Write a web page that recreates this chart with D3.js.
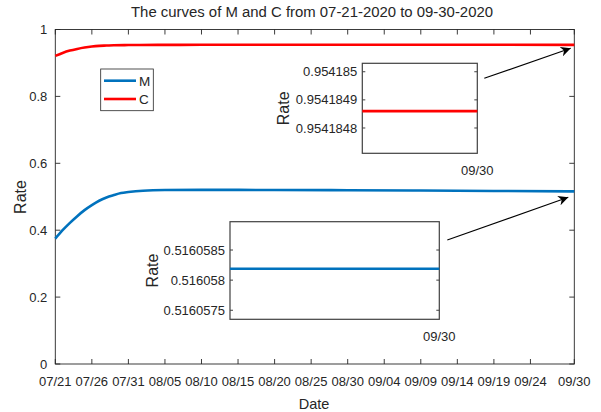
<!DOCTYPE html>
<html>
<head>
<meta charset="utf-8">
<script src="https://cdn.jsdelivr.net/npm/d3@7/dist/d3.min.js"></script>
<style>
  html, body { margin: 0; padding: 0; background: #fff; }
  svg { display: block; }
  text { font-family: "Liberation Sans", Arial, sans-serif; fill: #262626; }
</style>
</head>
<body>
<svg id="chart" width="601" height="412"></svg>
<script>
// M and C rates, 07-21-2020 to 09-30-2020
const mDates = ["2020-07-21","2020-07-22","2020-07-23","2020-07-24","2020-07-25","2020-07-26",
  "2020-07-27","2020-07-28","2020-07-29","2020-07-30","2020-07-31","2020-08-02","2020-08-05",
  "2020-08-10","2020-08-20","2020-08-30","2020-09-09","2020-09-19","2020-09-30"];
const mValues = [0.375,0.400,0.422,0.442,0.460,0.475,0.488,0.498,0.505,0.511,0.514,0.518,0.520,
  0.5205,0.5203,0.5195,0.5185,0.5172,0.51605819];

const cDates = ["2020-07-21","2020-07-22","2020-07-23","2020-07-24","2020-07-25","2020-07-26",
  "2020-07-27","2020-07-28","2020-07-29","2020-07-31","2020-08-04","2020-08-10","2020-09-30"];
const cValues = [0.921,0.930,0.937,0.942,0.946,0.949,0.951,0.952,0.953,0.9535,0.954,0.9542,0.95418486];

const xTickDates = ["2020-07-21","2020-07-26","2020-07-31","2020-08-05","2020-08-10","2020-08-15",
  "2020-08-20","2020-08-25","2020-08-30","2020-09-04","2020-09-09","2020-09-14","2020-09-19",
  "2020-09-24","2020-09-30"];
const yTicks = [0, 0.2, 0.4, 0.6, 0.8, 1];

const cInsetTicks = [0.9541848, 0.9541849, 0.954185];
const cInsetTickLabels = ["0.9541848", "0.9541849", "0.954185"];
const cInsetDomain = [0.95418471, 0.95418503];
const mInsetTicks = [0.5160575, 0.516058, 0.5160585];
const mInsetTickLabels = ["0.5160575", "0.516058", "0.5160585"];
const mInsetDomain = [0.51605735, 0.51605897];

const seriesNames = ["M", "C"];
const seriesColors = ["#0072BD", "#FF0000"];

const parse = d3.timeParse("%Y-%m-%d");
const fmt = d3.timeFormat("%m/%d");
const axisColor = "#262626";

const svg = d3.select("#chart");

const L = 55.3, R = 574.3, T = 29.5, B = 364;
const x = d3.scaleTime().domain([parse("2020-07-21"), parse("2020-09-30")]).range([L, R]);
const y = d3.scaleLinear().domain([0, 1]).range([B, T]);

// axis box with inward ticks on all four sides
const tickLen = 5;
const box = svg.append("g");
box.append("rect").attr("x", L).attr("y", T).attr("width", R - L).attr("height", B - T)
  .attr("fill", "none").attr("stroke", axisColor).attr("stroke-width", 0.9);

const xt = xTickDates.map(parse);
box.selectAll(".xtb").data(xt).join("line")
  .attr("x1", d => x(d)).attr("x2", d => x(d)).attr("y1", B).attr("y2", B - tickLen)
  .attr("stroke", axisColor).attr("stroke-width", 0.9);
box.selectAll(".xtt").data(xt).join("line")
  .attr("x1", d => x(d)).attr("x2", d => x(d)).attr("y1", T).attr("y2", T + tickLen)
  .attr("stroke", axisColor).attr("stroke-width", 0.9);
box.selectAll(".ytl").data(yTicks).join("line")
  .attr("x1", L).attr("x2", L + tickLen).attr("y1", d => y(d)).attr("y2", d => y(d))
  .attr("stroke", axisColor).attr("stroke-width", 0.9);
box.selectAll(".ytr").data(yTicks).join("line")
  .attr("x1", R).attr("x2", R - tickLen).attr("y1", d => y(d)).attr("y2", d => y(d))
  .attr("stroke", axisColor).attr("stroke-width", 0.9);

svg.append("g").selectAll("text").data(xt).join("text")
  .attr("x", d => x(d)).attr("y", 385.5).attr("text-anchor", "middle")
  .attr("font-size", 13).text(d => fmt(d));
svg.append("g").selectAll("text").data(yTicks).join("text")
  .attr("x", L - 8).attr("y", d => y(d)).attr("dy", "0.35em").attr("text-anchor", "end")
  .attr("font-size", 13).text(d => d3.format("~g")(d));

svg.append("text").attr("x", 314).attr("y", 409).attr("text-anchor", "middle")
  .attr("font-size", 14.5).text("Date");
svg.append("text").attr("transform", "translate(26,197) rotate(-90)").attr("text-anchor", "middle")
  .attr("font-size", 16).text("Rate");
svg.append("text").attr("x", 312).attr("y", 17).attr("text-anchor", "middle")
  .attr("font-size", 14).attr("textLength", 362).attr("lengthAdjust", "spacingAndGlyphs")
  .text("The curves of M and C from 07-21-2020 to 09-30-2020");

// curves
const line = d3.line().x(d => x(d[0])).y(d => y(d[1])).curve(d3.curveMonotoneX);
const mData = mDates.map((d, i) => [parse(d), mValues[i]]);
const cData = cDates.map((d, i) => [parse(d), cValues[i]]);
svg.append("path").datum(mData).attr("d", line).attr("fill", "none")
  .attr("stroke", seriesColors[0]).attr("stroke-width", 2.6);
svg.append("path").datum(cData).attr("d", line).attr("fill", "none")
  .attr("stroke", seriesColors[1]).attr("stroke-width", 2.6);

// legend
const lg = svg.append("g");
lg.append("rect").attr("x", 100.7).attr("y", 69).attr("width", 52.6).attr("height", 41.7)
  .attr("fill", "#fff").attr("stroke", axisColor).attr("stroke-width", 0.8);
seriesNames.forEach((name, i) => {
  const yy = [80.7, 99][i];
  lg.append("line").attr("x1", 104).attr("x2", 136).attr("y1", yy).attr("y2", yy)
    .attr("stroke", seriesColors[i]).attr("stroke-width", 2.6);
  lg.append("text").attr("x", 139).attr("y", yy).attr("dy", "0.36em")
    .attr("font-size", 13.5).text(name);
});

// zoomed insets around 09/30
function inset(opt) {
  const g = svg.append("g");
  const endDate = parse("2020-09-30");
  const ix = d3.scaleTime().domain([d3.timeDay.offset(endDate, -1), endDate]).range([opt.x0, opt.x1]);
  const iy = d3.scaleLinear().domain(opt.domain).range([opt.y1, opt.y0]);
  g.append("rect").attr("x", opt.x0).attr("y", opt.y0).attr("width", opt.x1 - opt.x0)
    .attr("height", opt.y1 - opt.y0).attr("fill", "#fff").attr("stroke", "#404040").attr("stroke-width", 1.2);
  g.selectAll(".tl").data(opt.ticks).join("line")
    .attr("x1", opt.x0).attr("x2", opt.x0 + 3).attr("y1", d => iy(d)).attr("y2", d => iy(d))
    .attr("stroke", "#404040").attr("stroke-width", 1);
  g.selectAll(".tr").data(opt.ticks).join("line")
    .attr("x1", opt.x1).attr("x2", opt.x1 - 3).attr("y1", d => iy(d)).attr("y2", d => iy(d))
    .attr("stroke", "#404040").attr("stroke-width", 1);
  g.selectAll(".lb").data(opt.ticks).join("text")
    .attr("x", opt.x0 - 5).attr("y", d => iy(d)).attr("dy", "0.35em").attr("text-anchor", "end")
    .attr("font-size", 13).text((d, i) => opt.labels[i]);
  g.append("text").attr("x", ix(endDate)).attr("y", opt.y1 + 22).attr("text-anchor", "middle")
    .attr("font-size", 13).text(fmt(endDate));
  g.append("text").attr("transform", `translate(${opt.rateX},${(opt.y0 + opt.y1) / 2}) rotate(-90)`)
    .attr("text-anchor", "middle").attr("font-size", 16).text("Rate");
  const segment = ix.domain().map(d => [d, opt.value]);
  g.append("path").datum(segment)
    .attr("d", d3.line().x(d => ix(d[0])).y(d => iy(d[1])))
    .attr("stroke", opt.color).attr("stroke-width", 2.6).attr("fill", "none");
}

inset({ x0: 362.3, x1: 477.3, y0: 63.3, y1: 153.3, domain: cInsetDomain,
  ticks: cInsetTicks, labels: cInsetTickLabels, value: cValues[cValues.length - 1],
  color: seriesColors[1], rateX: 289 });
inset({ x0: 230, x1: 439.3, y0: 221.7, y1: 319.3, domain: mInsetDomain,
  ticks: mInsetTicks, labels: mInsetTickLabels, value: mValues[mValues.length - 1],
  color: seriesColors[0], rateX: 158 });

// arrows pointing from each inset to the curve end
const defs = svg.append("defs");
defs.append("marker").attr("id", "head").attr("viewBox", "0 0 10 10")
  .attr("refX", 10).attr("refY", 5).attr("markerWidth", 10).attr("markerHeight", 10)
  .attr("markerUnits", "userSpaceOnUse").attr("orient", "auto")
  .append("path").attr("d", "M0,0 L10,5 L0,10 L3,5 Z").attr("fill", "#000");
[[484.3, 78.3, 570.7, 48.3], [447.3, 240, 568.3, 197.3]].forEach(a => {
  svg.append("line").attr("x1", a[0]).attr("y1", a[1]).attr("x2", a[2]).attr("y2", a[3])
    .attr("stroke", "#000").attr("stroke-width", 1.1).attr("marker-end", "url(#head)");
});
</script>
</body>
</html>
